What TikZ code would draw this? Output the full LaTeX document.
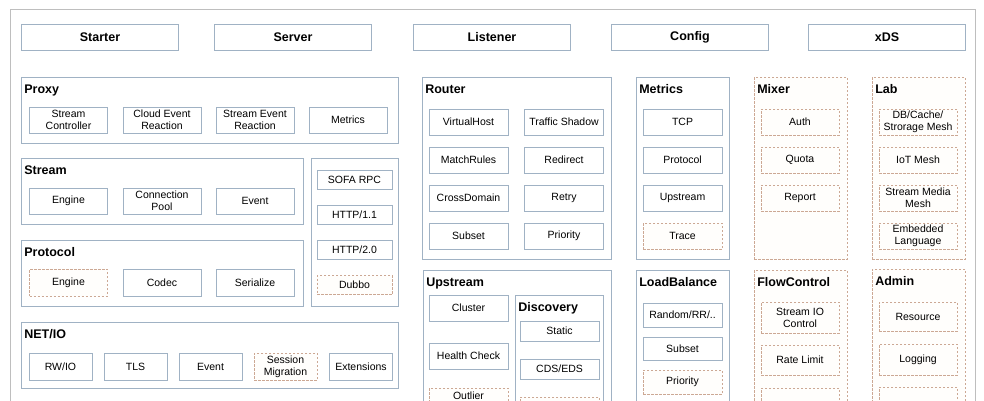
\documentclass[tikz,border=0pt]{standalone}
\usepackage{fontspec}
\setmainfont{Liberation Sans}
\usetikzlibrary{positioning}
\definecolor{edge}{RGB}{160,178,196}
\definecolor{dedge}{RGB}{204,168,148}
\definecolor{dfill}{RGB}{255,254,252}
\definecolor{framec}{RGB}{190,190,190}
\tikzset{
  box/.style={draw=edge,line width=0.8pt,fill=white,inner sep=0pt,align=center,font=\fontsize{10.5}{12}\selectfont},
  dbox/.style={box,draw=dedge,dash pattern=on 2.5pt off 1.5pt,fill=dfill},
  sz/.style 2 args={minimum width=#1,minimum height=#2},
  topbox/.style={box,sz={157}{26},font=\fontsize{12.5}{14}\selectfont\bfseries},
  grp/.style={draw=edge,line width=0.8pt,fill=white,inner sep=0pt},
  dgrp/.style={grp,draw=dedge,dash pattern=on 2.5pt off 1.5pt,fill=dfill},
  title/.style={inner sep=0pt,font=\fontsize{12.5}{14}\selectfont\bfseries,below right=8pt and 3.5pt of #1}
}

\begin{document}
\begin{tikzpicture}[x=1pt,y=-1pt]
  \useasboundingbox (0,0) rectangle (984,400);
  \clip (0,0) rectangle (984,400);
  \fill[white] (0,0) rectangle (984,400);
  \draw[framec,line width=0.8pt] (10,9) rectangle (975,440);

  % top row
  \path (100,37.5) node[topbox] (starter) {Starter} (293,37.5) node[topbox] (server) {Server}
  (492,37.5) node[topbox] (listener) {Listener} (690,37.5) node[topbox] (config) {Config}
  (887,37.5) node[topbox] (xds) {xDS};

  % left column
  \node[grp,sz={377}{66}] (proxy) at (209.5,110) {};
  \node[title=proxy.north west] (proxyt) {Proxy};
  \path (68.5,120) node[box,sz={78}{26}] (sc) {Stream\\Controller}
  (162,120) node[box,sz={78}{26}] (cer) {Cloud Event\\Reaction}
  (255,120) node[box,sz={78}{26}] (ser) {Stream Event\\Reaction}
  (348,120) node[box,sz={78}{26}] (pm) {Metrics};

  \node[grp,sz={282}{66}] (stream) at (162,191) {};
  \node[title=stream.north west] (streamt) {Stream};
  \path (68.5,201) node[box,sz={78}{26}] (se) {Engine}
  (162,201) node[box,sz={78}{26}] (cp) {Connection\\Pool}
  (255,201) node[box,sz={78}{26}] (sev) {Event};

  \node[grp,sz={282}{66}] (proto) at (162,273) {};
  \node[title=proto.north west] (protot) {Protocol};
  \path (68.5,282.5) node[dbox,sz={78}{27}] (pe) {Engine}
  (162,282.5) node[box,sz={78}{27}] (codec) {Codec}
  (255,282.5) node[box,sz={78}{27}] (serial) {Serialize};

  \node[grp,sz={87}{148}] (protos) at (354.5,232) {};
  \path (354.5,180) node[box,sz={75}{19}] (sofa) {SOFA RPC}
  (354.5,215) node[box,sz={75}{19}] (h1) {HTTP/1.1}
  (354.5,250) node[box,sz={75}{19}] (h2) {HTTP/2.0}
  (354.5,285) node[dbox,sz={75}{19}] (dubbo) {Dubbo};

  \node[grp,sz={377}{66}] (netio) at (209.5,355) {};
  \node[title=netio.north west] (netiot) {NET/IO};
  \path (60.5,366.5) node[box,sz={63}{27}] (rw) {RW/IO}
  (135.5,366.5) node[box,sz={63}{27}] (tls) {TLS}
  (210.5,366.5) node[box,sz={63}{27}] (nev) {Event}
  (285.5,366.5) node[dbox,sz={63}{27}] (sm) {Session\\Migration}
  (361,366.5) node[box,sz={63}{27}] (ext) {Extensions};

  % router and upstream
  \node[grp,sz={189}{182}] (router) at (516.5,168) {};
  \node[title=router.north west] (routert) {Router};
  \path (468.5,122) node[box,sz={79}{26}] (vh) {VirtualHost}
  (564,122) node[box,sz={79}{26}] (ts) {Traffic Shadow}
  (468.5,160) node[box,sz={79}{26}] (mr) {MatchRules}
  (564,160) node[box,sz={79}{26}] (redir) {Redirect}
  (468.5,198) node[box,sz={79}{26}] (cd) {CrossDomain}
  (564,198) node[box,sz={79}{26}] (retry) {Retry}
  (468.5,236) node[box,sz={79}{26}] (rsub) {Subset}
  (564,236) node[box,sz={79}{26}] (rprio) {Priority};

  \node[grp,sz={188}{170}] (up) at (517,355) {};
  \node[title=up.north west] (upt) {Upstream};
  \path (468.5,308) node[box,sz={79}{26}] (cluster) {Cluster}
  (468.5,356) node[box,sz={79}{26}] (hc) {Health Check}
  (468.5,403) node[dbox,sz={79}{30}] (outlier) {Outlier\\\strut};
  \node[grp,sz={88}{145}] (disc) at (559,367.5) {};
  \node[title=disc.north west] (disct) {Discovery};
  \path (559.5,331) node[box,sz={79}{20}] (static) {Static}
  (559.5,369) node[box,sz={79}{20}] (cds) {CDS/EDS}
  (559.5,407) node[dbox,sz={79}{20}] (dx) {};

  % metrics and loadbalance
  \node[grp,sz={93}{182}] (metrics) at (682.5,168) {};
  \node[title=metrics.north west] (metricst) {Metrics};
  \path (682.5,122) node[box,sz={79}{26}] (tcp) {TCP}
  (682.5,160) node[box,sz={79}{26}] (mproto) {Protocol}
  (682.5,198) node[box,sz={79}{26}] (mup) {Upstream}
  (682.5,236) node[dbox,sz={79}{26}] (trace) {Trace};

  \node[grp,sz={93}{170}] (lb) at (682.5,355) {};
  \node[title=lb.north west] (lbt) {LoadBalance};
  \path (682.5,315) node[box,sz={79}{24}] (rr) {Random/RR/..}
  (682.5,348.5) node[box,sz={79}{23}] (lbsub) {Subset}
  (682.5,382) node[dbox,sz={79}{24}] (lbprio) {Priority};

  % mixer and flowcontrol
  \node[dgrp,sz={93}{182}] (mixer) at (800.5,168) {};
  \node[title=mixer.north west] (mixert) {Mixer};
  \path (800,122) node[dbox,sz={78}{26}] (auth) {Auth}
  (800,160) node[dbox,sz={78}{26}] (quota) {Quota}
  (800,198) node[dbox,sz={78}{26}] (report) {Report};

  \node[dgrp,sz={93}{170}] (flow) at (800.5,355) {};
  \node[title=flow.north west] (flowt) {FlowControl};
  \path (800,317.5) node[dbox,sz={78}{31}] (sio) {Stream IO\\Control}
  (800,360) node[dbox,sz={78}{30}] (rl) {Rate Limit}
  (800,403) node[dbox,sz={78}{30}] (fx) {};

  % lab and admin
  \node[dgrp,sz={93}{182}] (lab) at (918.5,168) {};
  \node[title=lab.north west] (labt) {Lab};
  \path (918,122) node[dbox,sz={78}{26}] (db) {DB/Cache/\\Strorage Mesh}
  (918,160) node[dbox,sz={78}{26}] (iot) {IoT Mesh}
  (918,198) node[dbox,sz={78}{26}] (smm) {Stream Media\\Mesh}
  (918,236) node[dbox,sz={78}{26}] (emb) {Embedded\\Language};

  \node[dgrp,sz={93}{171}] (admin) at (918.5,354.5) {};
  \node[title=admin.north west] (admint) {Admin};
  \path (918,316.5) node[dbox,sz={78}{29}] (res) {Resource}
  (918,359.5) node[dbox,sz={78}{31}] (log) {Logging}
  (918,402) node[dbox,sz={78}{30}] (ax) {};
\end{tikzpicture}
\end{document}
